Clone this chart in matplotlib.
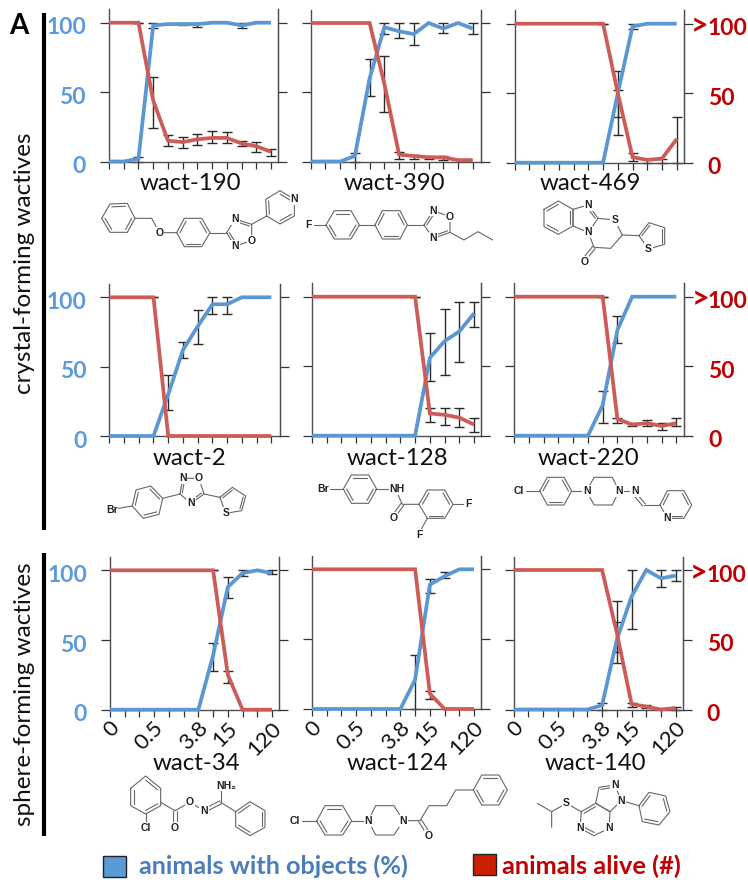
import matplotlib
matplotlib.use("Agg")
import matplotlib.pyplot as plt
import numpy as np
from matplotlib.patches import Rectangle
from matplotlib.transforms import ScaledTranslation

# ---------- data ----------
W190_OBJ = [0, 0, 2, 98, 99, 99, 99, 100, 100, 98, 100, 100]
W190_ALIVE = [100, 100, 100, 44, 15, 14, 16, 17, 17, 13, 11, 7]
W190_OBJ_ERR = {2: (0, 3), 3: (96, 100), 5: (98, 100), 6: (97, 100), 9: (96, 100)}
W190_ALIVE_ERR = {2: (100, 100), 3: (24, 61), 4: (11, 19), 5: (10, 18), 6: (12, 20), 7: (13, 22),
                  8: (13, 21), 9: (11, 15), 10: (7, 14), 11: (4, 9)}

W390_OBJ = [0, 0, 0, 4, 60, 97, 94, 92, 100, 96, 100, 96]
W390_ALIVE = [100, 100, 100, 100, 100, 56, 5, 4, 3, 3, 1, 1]
W390_OBJ_ERR = {3: (0, 6), 4: (47, 74), 5: (92, 100), 6: (89, 100), 7: (84, 100), 9: (93, 100), 11: (92, 100)}
W390_ALIVE_ERR = {5: (36, 76), 6: (2, 7), 7: (2, 5), 8: (2, 4), 9: (1, 4)}

W469_OBJ = [0, 0, 0, 0, 0, 0, 0, 50, 98, 100, 100, 100]
W469_ALIVE = [100, 100, 100, 100, 100, 100, 100, 50, 4, 2, 3, 17]
W469_OBJ_ERR = {7: (20, 66), 8: (96, 100)}
W469_ALIVE_ERR = {6: (100, 100), 7: (33, 52), 8: (1, 7), 9: (0, 3), 10: (0, 3), 11: (0, 33)}

W2_OBJ = [0, 0, 0, 0, 30, 62, 79, 95, 95, 100, 100, 100]
W2_ALIVE = [100, 100, 100, 100, 0, 0, 0, 0, 0, 0, 0, 0]
W2_OBJ_ERR = {4: (19, 44), 5: (56, 68), 6: (66, 91), 7: (88, 100), 8: (88, 100)}
W2_ALIVE_ERR = {3: (100, 100)}

W128_OBJ = [0, 0, 0, 0, 0, 0, 0, 0, 56, 68, 75, 88]
W128_ALIVE = [100, 100, 100, 100, 100, 100, 100, 100, 16, 15, 13, 8]
W128_OBJ_ERR = {8: (39, 74), 9: (44, 91), 10: (53, 96), 11: (78, 96)}
W128_ALIVE_ERR = {7: (100, 100), 8: (10, 20), 9: (8, 20), 10: (6, 20), 11: (3, 13)}

W220_OBJ = [0, 0, 0, 0, 0, 0, 22, 76, 100, 100, 100, 100]
W220_ALIVE = [100, 100, 100, 100, 100, 100, 100, 12, 8, 9, 7, 9]
W220_OBJ_ERR = {6: (9, 32), 7: (67, 86)}
W220_ALIVE_ERR = {6: (100, 100), 7: (9, 13), 8: (7, 9), 9: (7, 11), 10: (4, 9), 11: (7, 13)}

W34_OBJ = [0, 0, 0, 0, 0, 0, 0, 39, 88, 98, 100, 98]
W34_ALIVE = [100, 100, 100, 100, 100, 100, 100, 100, 25, 0, 0, 0]
W34_OBJ_ERR = {7: (28, 48), 8: (80, 95), 9: (96, 100), 11: (97, 100)}
W34_ALIVE_ERR = {7: (100, 100), 8: (19, 28)}

W124_OBJ = [0, 0, 0, 0, 0, 0, 0, 21, 89, 95, 100, 100]
W124_ALIVE = [100, 100, 100, 100, 100, 100, 100, 100, 11, 0, 0, 0]
W124_OBJ_ERR = {7: (0, 39), 8: (83, 93), 9: (94, 98)}
W124_ALIVE_ERR = {8: (7, 13)}

W140_OBJ = [0, 0, 0, 0, 0, 0, 3, 50, 81, 100, 94, 96]
W140_ALIVE = [100, 100, 100, 100, 100, 100, 100, 55, 4, 2, 0, 1]
W140_OBJ_ERR = {6: (0, 5), 7: (41, 63), 8: (58, 100), 10: (88, 100), 11: (92, 100)}
W140_ALIVE_ERR = {7: (33, 78), 8: (2, 5), 9: (1, 3), 11: (0, 2)}

NAMES = ["wact-190", "wact-390", "wact-469", "wact-2", "wact-128", "wact-220",
         "wact-34", "wact-124", "wact-140"]
OBJ = [W190_OBJ, W390_OBJ, W469_OBJ, W2_OBJ, W128_OBJ, W220_OBJ, W34_OBJ, W124_OBJ, W140_OBJ]
ALIVE = [W190_ALIVE, W390_ALIVE, W469_ALIVE, W2_ALIVE, W128_ALIVE, W220_ALIVE, W34_ALIVE, W124_ALIVE, W140_ALIVE]
OBJ_ERR = [W190_OBJ_ERR, W390_OBJ_ERR, W469_OBJ_ERR, W2_OBJ_ERR, W128_OBJ_ERR, W220_OBJ_ERR,
           W34_OBJ_ERR, W124_OBJ_ERR, W140_OBJ_ERR]
ALIVE_ERR = [W190_ALIVE_ERR, W390_ALIVE_ERR, W469_ALIVE_ERR, W2_ALIVE_ERR, W128_ALIVE_ERR, W220_ALIVE_ERR,
             W34_ALIVE_ERR, W124_ALIVE_ERR, W140_ALIVE_ERR]
YTICKS = [0, 50, 100]
XTICK_POS = [0, 3, 6, 8, 11]
XTICK_LABELS = ["0", "0.5", "3.8", "15", "120"]

# ---------- style / layout (pixels) ----------
W, H = 748, 880
BLUE, RED, BLUE_T, RED_T = "#5b97d2", "#cd5c58", "#5c9ade", "#c00000"
FONT = "Lato"
plt.rcParams["font.family"] = [FONT, "DejaVu Sans"]
STEP = 14.73
# left, right, y100, y0
BOX = [(109, 277.5, 22.7, 161.5), (310.7, 480.7, 23, 161.5), (514.7, 684, 23.7, 162.7),
       (109.3, 280, 297.3, 436), (312, 481.3, 296.7, 435.7), (514.3, 684.3, 296.7, 435.7),
       (110, 279.3, 570.3, 709.7), (312, 481.3, 569.3, 709), (513.7, 683, 570, 709.5)]
TITLE_X = [190, 394, 590.5, 189, 397.5, 588.5, 196, 397.5, 595]
TITLE_BASE = [190, 190, 190, 465, 465, 465, 769.5, 769.5, 769.5]

fig = plt.figure(figsize=(W / 100, H / 100), dpi=100)
px = fig.dpi_scale_trans


def errs(ax, vals, err):
    for i, (lo, hi) in err.items():
        ax.errorbar([i], [vals[i]], yerr=[[max(vals[i] - lo, 0)], [max(hi - vals[i], 0)]], fmt="none",
                    ecolor="#2b2b2b", elinewidth=1.0, capsize=3.5, capthick=1.0, zorder=2, clip_on=False)


for k, (l, r, y100, y0) in enumerate(BOX):
    top = y100 - 13.4
    ax = fig.add_axes([l / W, 1 - y0 / H, (r - l) / W, (y0 - top) / H])
    ax.set_facecolor("none")
    ax.set_xlim(0, (r - l) / STEP)
    ax.set_ylim(0, 100 * (y0 - top) / (y0 - y100))
    x = np.arange(12)
    errs(ax, OBJ[k], OBJ_ERR[k])
    errs(ax, ALIVE[k], ALIVE_ERR[k])
    ax.plot(x, OBJ[k], color=BLUE, lw=2.7, zorder=3, clip_on=False, solid_joinstyle="miter", solid_capstyle="butt")
    ax.plot(x, ALIVE[k], color=RED, lw=2.7, zorder=4, clip_on=False, solid_joinstyle="miter", solid_capstyle="butt")
    ax.spines["top"].set_visible(False)
    for s in ["left", "right", "bottom"]:
        ax.spines[s].set_color("#4d4d4d")
        ax.spines[s].set_linewidth(1.0)
    col = k % 3
    ax.set_yticks(YTICKS)
    ax.tick_params(axis="y", which="both", left=True, right=False, labelleft=False, length=6.5, width=0.9,
                   color="#333333")
    ax2 = ax.twinx()
    ax2.set_ylim(ax.get_ylim())
    ax2.set_yticks(YTICKS)
    ax2.spines["top"].set_visible(False)
    ax2.spines["left"].set_visible(False)
    ax2.spines["bottom"].set_visible(False)
    ax2.spines["right"].set_color("#4d4d4d")
    ax2.tick_params(axis="y", length=6.5, width=0.9, color="#333333", labelright=False)
    if col == 0:
        ax.set_yticklabels([str(v) for v in YTICKS])
        ax.tick_params(axis="y", labelleft=True, pad=10, labelcolor=BLUE_T, labelsize=16.5)
        for t in ax.get_yticklabels():
            t.set_fontweight("bold")
            t.set_transform(t.get_transform() + ScaledTranslation(0, -3 / 100, px))
    if col == 2:
        ax2.set_yticklabels([str(v) for v in YTICKS])
        ax2.tick_params(axis="y", labelright=True, pad=10.5, labelcolor=RED_T, labelsize=16.5)
        for t in ax2.get_yticklabels():
            t.set_fontweight("bold")
            t.set_transform(t.get_transform() + ScaledTranslation(0, -3 / 100, px))
    ax.set_xticks(x)
    ax.tick_params(axis="x", length=5, width=0.9, color="#333333", labelbottom=False)
    if k >= 6:
        ax.set_xticks(XTICK_POS, labels=XTICK_LABELS)
        ax.set_xticks([i for i in x if i not in XTICK_POS], minor=True)
        ax.tick_params(axis="x", which="both", length=5, width=0.9, color="#333333", labelbottom=True, pad=1,
                       labelsize=16, labelcolor="#111111")
        for t in ax.get_xticklabels():
            t.set_rotation(45)
            t.set_ha("right")
            t.set_rotation_mode("anchor")
            t.set_va("top")
            t.set_transform(t.get_transform() + ScaledTranslation(-1 / 100, 0, px))

# ---------- overlay (pixel coordinates) ----------
ov = fig.add_axes([0, 0, 1, 1], zorder=10)
ov.set_xlim(0, W)
ov.set_ylim(H, 0)
ov.axis("off")

for k, name in enumerate(NAMES):
    ov.text(TITLE_X[k], TITLE_BASE[k], name, ha="center", va="baseline", fontsize=17.3, color="#111111")
for (l, r, y100, y0) in (BOX[2], BOX[5], BOX[8]):
    ov.text(r + 7, y100 + 3, ">", ha="left", va="center", fontsize=22, fontweight="bold", color=RED_T)

ov.text(19, 26, "A", ha="center", va="center", fontsize=20, fontweight="bold", color="black")
ov.plot([43.7, 43.7], [13, 530], color="black", lw=3, solid_capstyle="butt")
ov.plot([43.7, 43.7], [553, 835.6], color="black", lw=3, solid_capstyle="butt")
ov.text(25, 263, "crystal-forming wactives", rotation=90, ha="center", va="center", fontsize=17.5, color="#111111")
ov.text(25, 694, "sphere-forming wactives", rotation=90, ha="center", va="center", fontsize=17.5, color="#111111")
ov.add_patch(Rectangle((103, 856), 23, 21, fc="#5b9bd5", ec="#222222", lw=1))
ov.add_patch(Rectangle((473, 854), 23, 21, fc="#cc1f00", ec="#222222", lw=1))
ov.text(139, 866, "animals with objects (%)", ha="left", va="center", fontsize=18.2, fontweight="bold", color="#4a7ebb")
ov.text(502, 866, "animals alive (#)", ha="left", va="center", fontsize=18.3, fontweight="bold", color=RED_T)

# ---------- chemical structures: coordinates from 3x crops, (x0,y0) = crop origin ----------
BOND = "#666666"


def mol(x0, y0):
    def P(p):
        return (x0 + p[0] / 3, y0 + p[1] / 3)

    def line(*pts):
        q = [P(p) for p in pts]
        ov.plot([a[0] for a in q], [a[1] for a in q], color=BOND, lw=0.8, zorder=1, solid_capstyle="round")

    def dline(a, b):
        a, b = np.array(a, float), np.array(b, float)
        d = b - a
        n = np.array([-d[1], d[0]]) / np.hypot(*d) * 5
        line(tuple(a + n), tuple(b + n))
        line(tuple(a - n), tuple(b - n))

    def ring(pts, doubles=()):
        line(*pts, pts[0])
        c = np.mean(np.array(pts, float), axis=0)
        for i in doubles:
            a, b = np.array(pts[i], float), np.array(pts[(i + 1) % len(pts)], float)
            a2, b2 = a + (c - a) * 0.2, b + (c - b) * 0.2
            line(tuple(a2), tuple(b2))

    def atom(p, s, size=7.5):
        q = P(p)
        ov.text(q[0], q[1], s, ha="center", va="center", fontsize=size, fontweight="bold", color="#222222",
                family="Liberation Sans", zorder=2,
                bbox=dict(fc="white", ec="none", pad=0.6))

    return line, dline, ring, atom


# wact-190
line, dline, ring, atom = mol(0, 0)
ring([(305, 655), (330, 612), (382, 610), (405, 655), (382, 697), (330, 697)], (1, 3, 5))
line((405, 655), (455, 655), (478, 698), (530, 698))
atom((478, 698), "O")
ring([(530, 698), (553, 655), (605, 655), (630, 698), (605, 740), (553, 740)], (0, 2, 4))
line((630, 698), (680, 698))
ring([(680, 698), (705, 657), (755, 673), (755, 722), (705, 738)], (1, 4))
atom((705, 657), "N"); atom((755, 722), "O"); atom((705, 738), "N")
line((755, 673), (800, 648))
ring([(800, 648), (797, 598), (840, 572), (883, 598), (883, 648), (840, 672)], (0, 2, 4))
atom((883, 598), "N")

# wact-390
line, dline, ring, atom = mol(374, 0)
atom((-197, 675), "F")
line((-180, 675), (-144, 675))
ring([(-144, 675), (-119, 632), (-69, 632), (-44, 675), (-69, 717), (-119, 717)], (1, 3, 5))
line((-44, 675), (3, 675))
ring([(3, 675), (25, 632), (78, 632), (100, 675), (78, 717), (25, 717)], (0, 2, 4))
line((100, 675), (150, 675))
ring([(150, 675), (178, 632), (228, 650), (228, 697), (178, 715)], (0, 3))
atom((178, 632), "N"); atom((228, 650), "O"); atom((178, 715), "N")
line((228, 697), (270, 720), (312, 695), (356, 720))

# wact-469
ring([(510, 628), (553, 603), (597, 628), (597, 678), (553, 703), (510, 680)], (0, 2, 4))
ring([(597, 628), (643, 615), (672, 655), (643, 697), (597, 678)], (1,))
atom((643, 615), "N"); atom((643, 697), "N")
line((672, 655), (722, 660), (745, 705), (710, 745), (660, 742), (643, 697))
atom((722, 660), "S")
dline((660, 742), (636, 772))
atom((632, 785), "O")
line((745, 705), (795, 707))
ring([(795, 707), (825, 668), (872, 683), (872, 733), (823, 747)], (0, 2))
atom((823, 747), "S")

# wact-2
line, dline, ring, atom = mol(0, 270)
atom((335, 720), "Br")
line((355, 715), (397, 708))
ring([(397, 708), (408, 660), (452, 648), (488, 685), (477, 733), (430, 745)], (0, 2, 4))
line((488, 685), (540, 672))
ring([(540, 672), (548, 625), (597, 625), (612, 672), (573, 700)], (0, 3))
atom((548, 625), "N"); atom((597, 625), "O"); atom((573, 700), "N")
line((612, 672), (660, 682))
ring([(660, 682), (697, 652), (737, 678), (725, 722), (677, 730)], (0, 2))
atom((677, 730), "S")

# wact-128
atom((968, 657), "Br")
line((990, 657), (1030, 657))
ring([(1030, 657), (1054, 615), (1106, 615), (1130, 657), (1106, 700), (1054, 700)], (1, 3, 5))
line, dline, ring, atom = mol(374, 270)
line((3, 657), (48, 657))
atom((70, 657), "NH")
line((70, 670), (85, 703), (135, 703))
dline((85, 703), (62, 735))
atom((58, 745), "O")
ring([(135, 703), (160, 660), (212, 660), (237, 703), (212, 745), (160, 745)], (0, 2, 4))
line((237, 703), (283, 703)); atom((283, 703), "F")
line((160, 745), (135, 790)); atom((135, 795), "F")

# wact-220
atom((435, 663), "Cl")
line((455, 663), (497, 663))
ring([(497, 663), (520, 622), (570, 622), (593, 663), (570, 705), (520, 705)], (0, 2, 4))
line((593, 663), (638, 663))
ring([(638, 663), (660, 622), (715, 622), (735, 663), (715, 705), (660, 705)])
atom((638, 663), "N"); atom((735, 663), "N")
line((735, 663), (783, 663)); line((810, 705), (858, 705))
dline((783, 673), (810, 705))
atom((783, 663), "N")
ring([(858, 705), (880, 662), (930, 662), (953, 705), (930, 745), (880, 745)], (0, 2, 4))
atom((880, 745), "N")

# wact-34
line, dline, ring, atom = mol(0, 540)
ring([(392, 745), (437, 708), (482, 745), (482, 797), (437, 822), (392, 797)], (1, 3, 5))
line((437, 822), (437, 850)); atom((438, 865), "Cl")
line((482, 787), (525, 812), (570, 787), (612, 812))
dline((612, 812), (662, 787))
line((662, 787), (662, 752))
dline((525, 812), (525, 855))
atom((525, 865), "O"); atom((570, 787), "O"); atom((612, 812), "N"); atom((680, 737), "NH₂")
line((662, 787), (707, 815))
ring([(707, 815), (750, 785), (795, 812), (795, 862), (750, 887), (707, 860)], (0, 2, 4))

# wact-124
atom((883, 843), "Cl")
line((905, 843), (950, 843))
ring([(950, 843), (975, 797), (1028, 797), (1055, 843), (1028, 885), (975, 885)], (1, 3, 5))
line((1055, 843), (1105, 843))
line, dline, ring, atom = mol(374, 540)
ring([(-17, 842), (5, 797), (60, 797), (88, 842), (60, 885), (5, 885)])
atom((-17, 842), "N"); atom((88, 842), "N")
line((88, 842), (138, 842), (165, 797), (218, 797), (245, 750), (298, 750))
dline((138, 842), (160, 876)); atom((165, 888), "O")
ring([(298, 750), (323, 705), (375, 705), (400, 750), (375, 795), (323, 795)], (1, 3, 5))

# wact-140
line((490, 790), (533, 815), (533, 862))
line((533, 815), (577, 790), (622, 815))
atom((577, 790), "S")
ring([(622, 815), (665, 790), (708, 815), (705, 865), (660, 887), (618, 865)], (0, 4))
ring([(665, 790), (675, 742), (722, 735), (742, 782), (708, 815)], (1,))
atom((618, 865), "N"); atom((705, 865), "N"); atom((722, 735), "N"); atom((742, 782), "N")
line((742, 782), (795, 797))
ring([(795, 797), (825, 757), (875, 768), (888, 815), (855, 855), (805, 845)], (0, 2, 4))

fig.savefig("out.png", dpi=100, facecolor="white")
